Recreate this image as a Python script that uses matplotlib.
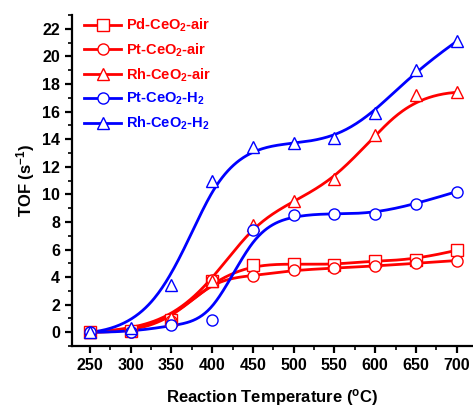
import numpy as np
import matplotlib.pyplot as plt
from matplotlib.ticker import MultipleLocator

plt.rcParams['font.family'] = 'Liberation Sans'
plt.rcParams['font.weight'] = 'bold'
plt.rcParams['axes.labelweight'] = 'bold'
plt.rcParams['mathtext.fontset'] = 'custom'
plt.rcParams['mathtext.rm'] = 'Liberation Sans:bold'
plt.rcParams['mathtext.bf'] = 'Liberation Sans:bold'
plt.rcParams['mathtext.default'] = 'bf'

temps = [250, 300, 350, 400, 450, 500, 550, 600, 650, 700]

pd_air = [0.0, 0.1, 0.9, 3.7, 4.9, 4.95, 4.9, 5.2, 5.25, 5.95]
pt_air = [0.0, 0.0, 0.8, 3.8, 4.1, 4.5, 4.65, 4.8, 5.0, 5.2]
rh_air = [0.0, 0.2, 1.0, 3.75, 7.8, 9.5, 11.1, 14.3, 17.2, 17.4]
pt_h2 = [0.0, 0.0, 0.5, 0.87, 7.4, 8.5, 8.6, 8.6, 9.3, 10.2]
rh_h2 = [0.0, 0.3, 3.4, 11.0, 13.4, 13.7, 14.1, 15.9, 19.0, 21.1]

series = [
    ("Pd-CeO$_2$-air", pd_air, "s", "red"),
    ("Pt-CeO$_2$-air", pt_air, "o", "red"),
    ("Rh-CeO$_2$-air", rh_air, "^", "red"),
    ("Pt-CeO$_2$-H$_2$", pt_h2, "o", "blue"),
    ("Rh-CeO$_2$-H$_2$", rh_h2, "^", "blue"),
]


def bspline(xs, ys, n=300, k=3):
    # clamped uniform cubic B-spline with the data as control points
    pts = np.column_stack([xs, ys]).astype(float)
    m = len(pts)
    knots = np.concatenate([np.zeros(k), np.arange(m - k + 1), np.full(k, m - k)]).astype(float)
    t = np.linspace(0, m - k, n)
    t[-1] -= 1e-9

    def basis(i, p, u):
        if p == 0:
            return ((knots[i] <= u) & (u < knots[i + 1])).astype(float)
        out = np.zeros_like(u)
        d1 = knots[i + p] - knots[i]
        d2 = knots[i + p + 1] - knots[i + 1]
        if d1 > 0:
            out += (u - knots[i]) / d1 * basis(i, p - 1, u)
        if d2 > 0:
            out += (knots[i + p + 1] - u) / d2 * basis(i + 1, p - 1, u)
        return out

    curve = np.zeros((n, 2))
    for i in range(m):
        curve += basis(i, k, t)[:, None] * pts[i]
    return curve[:, 0], curve[:, 1]


fig = plt.figure(figsize=(4.73, 4.09), dpi=100)
ax = fig.add_axes([0.152, 0.154, 0.848, 0.809])

handles = []
for label, vals, mk, col in series:
    cx, cy = bspline(temps, vals)
    ax.plot(cx, cy, color=col, lw=2.0, zorder=2)
    ax.plot(temps, vals, ls="none", marker=mk, ms=8, mfc="white", mec=col, mew=1.0, zorder=3)
    h, = ax.plot([], [], color=col, lw=2.0, marker=mk, ms=8, mfc="white", mec=col, mew=1.0, label=label)
    handles.append(h)

leg = ax.legend(handles=handles, loc="upper left", bbox_to_anchor=(0.0, 1.03), frameon=False,
                prop={"size": 10.5, "weight": "bold"}, numpoints=1, handlelength=2.6,
                handletextpad=0.3, labelspacing=0.5, borderaxespad=0.4)
for txt, (_, _, _, col) in zip(leg.get_texts(), series):
    txt.set_color(col)

ax.set_xlim(228, 720)
ax.set_ylim(-1, 23)
ax.xaxis.set_major_locator(MultipleLocator(50))
ax.xaxis.set_minor_locator(MultipleLocator(25))
ax.yaxis.set_major_locator(MultipleLocator(2))
ax.yaxis.set_minor_locator(MultipleLocator(1))

ax.spines["top"].set_visible(False)
ax.spines["right"].set_visible(False)
for s in ["left", "bottom"]:
    ax.spines[s].set_linewidth(1.6)

ax.tick_params(which="major", direction="out", length=5, width=1.6, labelsize=11.5)
ax.tick_params(which="minor", direction="out", length=3, width=1.2)
ax.tick_params(top=False, right=False)
for lab in ax.get_xticklabels() + ax.get_yticklabels():
    lab.set_fontweight("bold")

ax.set_xlabel("Reaction Temperature ($^{o}$C)", fontsize=12, fontweight="bold", labelpad=10)
ax.set_ylabel("TOF (s$^{-1}$)", fontsize=12, fontweight="bold", labelpad=4)

fig.savefig("out.png", dpi=100)
